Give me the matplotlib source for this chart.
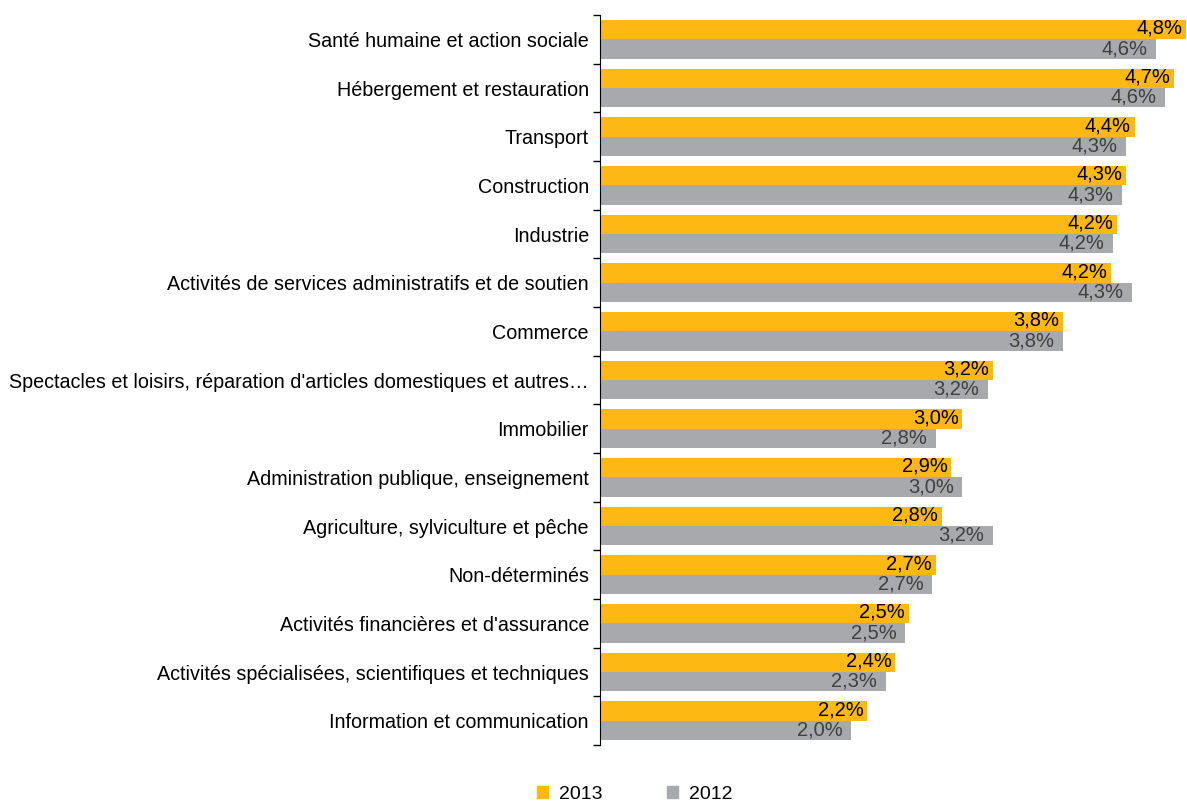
import numpy as np
import matplotlib.pyplot as plt
from matplotlib.patches import Patch

plt.rcParams['font.family'] = ['Liberation Sans', 'DejaVu Sans']

# DATA ------------------------------------------------------
categories = [
    "Santé humaine et action sociale",
    "Hébergement et restauration",
    "Transport",
    "Construction",
    "Industrie",
    "Activités de services administratifs et de soutien",
    "Commerce",
    "Spectacles et loisirs, réparation d'articles domestiques et autres…",
    "Immobilier",
    "Administration publique, enseignement",
    "Agriculture, sylviculture et pêche",
    "Non-déterminés",
    "Activités financières et d'assurance",
    "Activités spécialisées, scientifiques et techniques",
    "Information et communication",
]
# values (%)
v2013 = [4.80, 4.70, 4.38, 4.31, 4.24, 4.19, 3.79, 3.22, 2.97, 2.88, 2.80, 2.75, 2.53, 2.42, 2.19]
v2012 = [4.56, 4.63, 4.31, 4.28, 4.20, 4.36, 3.79, 3.18, 2.75, 2.97, 3.22, 2.72, 2.50, 2.34, 2.06]
lab2013 = ["4,8%", "4,7%", "4,4%", "4,3%", "4,2%", "4,2%", "3,8%", "3,2%", "3,0%", "2,9%", "2,8%", "2,7%", "2,5%", "2,4%", "2,2%"]
lab2012 = ["4,6%", "4,6%", "4,3%", "4,3%", "4,2%", "4,3%", "3,8%", "3,2%", "2,8%", "3,0%", "3,2%", "2,7%", "2,5%", "2,3%", "2,0%"]

orange = '#FDB813'
grey = '#A7A9AC'

# PLOT ------------------------------------------------------
fig = plt.figure(figsize=(11.87, 8.06), dpi=100)
ax = fig.add_axes([600 / 1187, 1 - 745 / 806, 587 / 1187, 730 / 806])

y = np.arange(len(categories))
h = 0.4
ax.barh(y - h / 2, v2013, height=h, color=orange, label='2013')
ax.barh(y + h / 2, v2012, height=h, color=grey, label='2012')

for i in range(len(categories)):
    ax.text(v2013[i] - 0.03, y[i] - 0.03, lab2013[i], ha='right', va='bottom',
            fontsize=14.5, color='black')
    ax.text(v2012[i] - 0.07, y[i] + h - 0.01, lab2012[i], ha='right', va='bottom',
            fontsize=14.5, color='#404040')

ax.set_xlim(0, 4.81)
ax.set_ylim(len(categories) - 0.5, -0.5)

ax.set_yticks(y)
ax.set_yticklabels(categories, fontsize=14.2)
ax.set_yticks(np.arange(-0.5, len(categories)), minor=True)
ax.tick_params(axis='y', which='major', length=0, pad=8)
ax.tick_params(axis='y', which='minor', length=5, width=1, color='black')
ax.set_xticks([])

for s in ['top', 'right', 'bottom']:
    ax.spines[s].set_visible(False)
ax.spines['left'].set_color('black')

handles = [Patch(color=orange), Patch(color=grey)]
fig.legend(handles, ['2013', '2012'], loc='lower center', bbox_to_anchor=(0.535, -0.018),
           ncol=2, frameon=False, fontsize=14, handlelength=0.55, handleheight=0.55,
           handletextpad=0.6, columnspacing=3.3)

fig.savefig('out.png', dpi=100)
